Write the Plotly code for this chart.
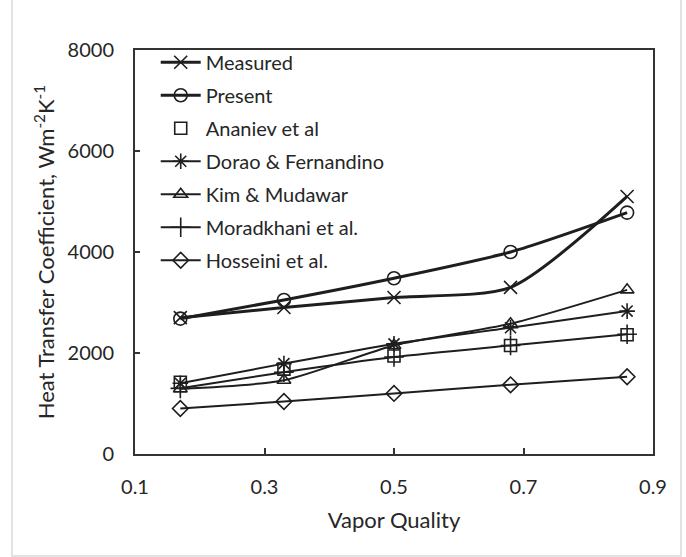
import plotly.graph_objects as go

vapor_quality = [0.17, 0.33, 0.5, 0.68, 0.86]
measured = [2700, 2900, 3100, 3300, 5100]
present = [2680, 3050, 3480, 4000, 4780]
ananiev = [1420, 1680, 1940, 2150, 2360]
dorao = [1400, 1790, 2180, 2500, 2830]
kim = [1290, 1460, 2150, 2580, 3250]
moradkhani = [1300, 1620, 1920, 2150, 2370]
hosseini = [900, 1040, 1200, 1370, 1530]

x_ticks = [0.1, 0.3, 0.5, 0.7, 0.9]
y_ticks = [0, 2000, 4000, 6000, 8000]

INK = "#1e1e1e"
TXT = "#262626"
FONT = "Lato"

series = [
    ("Measured", measured, "x-thin-open", 13, 3, "lines+markers"),
    ("Present", present, "circle-open", 13, 3, "lines+markers"),
    ("Ananiev et al", ananiev, "square-open", 12, 0, "markers"),
    ("Dorao & Fernandino", dorao, "asterisk-open", 13, 2, "lines+markers"),
    ("Kim & Mudawar", kim, "triangle-up-open", 12, 2, "lines+markers"),
    ("Moradkhani et al.", moradkhani, "cross-thin-open", 14, 2, "lines+markers"),
    ("Hosseini et al.", hosseini, "diamond-open", 12, 2, "lines+markers"),
]

fig = go.Figure()
for i, (name, vals, sym, size, lw, mode) in enumerate(series):
    fig.add_trace(go.Scatter(
        x=vapor_quality, y=vals, name=name, mode=mode,
        line=dict(color=INK, width=max(lw, 1), shape="spline", smoothing=0.7),
        marker=dict(symbol=sym, size=size, color=INK,
                    line=dict(color=INK, width=1.6)),
        legendgroup=f"g{i}",
    ))

fig.update_layout(
    width=686, height=557,
    margin=dict(l=135, r=33, t=50, b=103),
    paper_bgcolor="white", plot_bgcolor="white",
    font=dict(family=FONT, size=19, color=TXT),
    showlegend=True,
    legend=dict(
        x=0.04, y=1.018, xanchor="left", yanchor="top",
        bgcolor="rgba(0,0,0,0)", font=dict(size=20, color=TXT),
        traceorder="grouped", tracegroupgap=4, itemwidth=40,
    ),
    xaxis=dict(
        range=[0.1, 0.9], tickvals=x_ticks, tickformat=".1f",
        showgrid=False, zeroline=False,
        showline=True, linecolor="#333333", linewidth=2, mirror=True,
        ticks="inside", ticklen=6, tickwidth=1.5, tickcolor="#333333",
        ticklabelstandoff=14,
        tickfont=dict(size=20, color=TXT),
        title=dict(text="Vapor Quality", font=dict(size=22, color=TXT), standoff=16),
    ),
    yaxis=dict(
        range=[0, 8000], tickvals=y_ticks,
        showgrid=False, zeroline=False,
        showline=True, linecolor="#333333", linewidth=2, mirror=True,
        ticks="inside", ticklen=5, tickwidth=1.5, tickcolor="#333333",
        ticklabelstandoff=15,
        tickfont=dict(size=20, color=TXT),
        title=dict(text="Heat Transfer Coefficient, Wm<sup>-2</sup>K<sup>-1</sup>",
                   font=dict(size=22, color=TXT), standoff=7),
    ),
)

# light outer chart-area frame
fig.add_shape(type="rect", xref="paper", yref="paper",
              x0=-0.2375, x1=1.054, y0=-0.2525, y1=1.2,
              line=dict(color="#d9d9d9", width=1.5), layer="below")

fig.write_html("out.html")
